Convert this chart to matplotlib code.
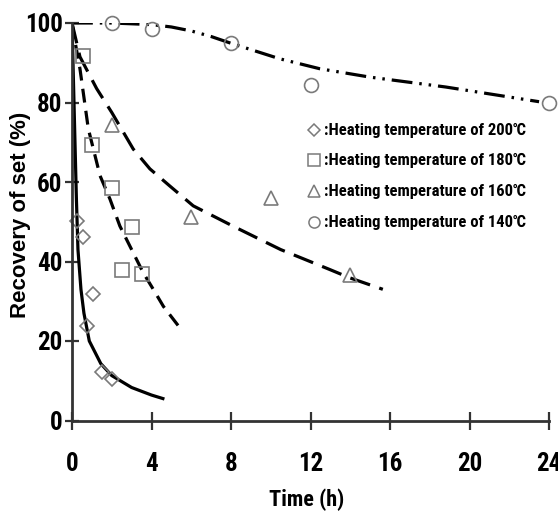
import matplotlib
matplotlib.use("Agg")
import matplotlib.pyplot as plt
from matplotlib import font_manager

# ---------------- data ----------------
# measured points
t200 = [0.25, 0.55, 0.75, 1.05, 1.5, 2.0]
r200 = [50.3, 46.2, 23.8, 31.8, 12.2, 10.4]
t180 = [0.55, 1.0, 2.0, 3.0, 2.5, 3.5]
r180 = [91.6, 69.4, 58.5, 48.7, 37.9, 36.9]
t160 = [2.0, 6.0, 10.0, 14.0]
r160 = [74.4, 51.3, 56.0, 36.6]
t140 = [2.0, 4.0, 8.0, 12.0, 24.0]
r140 = [100.0, 98.4, 95.0, 84.4, 80.0]

# fitted curves
ct200 = [0, 0.04, 0.08, 0.12, 0.16, 0.22, 0.3, 0.45, 0.6, 0.87, 1.45, 2.0, 3.0, 4.0, 4.65]
cr200 = [100, 92, 84, 76, 68, 56, 43, 33, 27, 20, 14.3, 11.3, 8.3, 6.4, 5.4]
ct180 = [0, 0.2, 0.4, 0.82, 1.41, 1.91, 2.41, 3.0, 3.58, 4.09, 4.6, 5.43]
cr180 = [100, 94, 88.5, 73.4, 61.6, 55.7, 48.9, 43.0, 37.2, 33.0, 28.7, 23.3]
ct160 = [0, 0.4, 1.24, 2.0, 3.08, 3.92, 4.92, 6.1, 8.1, 10.5, 12.96, 13.97, 15.64]
cr160 = [100, 91.5, 83.5, 77.5, 68.3, 63.3, 59.0, 54.0, 48.9, 43.0, 38.0, 35.9, 33.0]
ct140 = [0, 2.0, 4.0, 5.0, 6.0, 7.0, 7.94, 10.45, 12.46, 14.97, 18.8, 23.5]
cr140 = [100, 100, 99.6, 99.0, 98.0, 96.6, 95.0, 91.0, 88.5, 86.4, 83.9, 80.2]

legend_labels = [":Heating temperature of 200\u2103",
                 ":Heating temperature of 180\u2103",
                 ":Heating temperature of 160\u2103",
                 ":Heating temperature of 140\u2103"]
xticks = [0, 4, 8, 12, 16, 20, 24]
yticks = [0, 20, 40, 60, 80, 100]

# ---------------- style ----------------
names = {f.name for f in font_manager.fontManager.ttflist}
narrow = [n for n in ["Liberation Sans Narrow", "Roboto Condensed", "Open Sans Condensed"] if n in names]
NARROW = narrow + ["Liberation Sans", "DejaVu Sans"]
plt.rcParams["lines.scale_dashes"] = False

fig = plt.figure(figsize=(5.58, 5.18), dpi=100)
ax = fig.add_axes([72/558, 1-420.5/518, 477/558, 397.5/518])

gray = "#7a7a7a"
ax.plot(ct200, cr200, color="black", lw=2.3, solid_capstyle="butt")
ax.plot(ct180, cr180, color="black", lw=2.3, dashes=(10, 6))
ax.plot(ct160, cr160, color="black", lw=2.3, dashes=(15, 7))
ax.plot(ct140, cr140, color="black", lw=2.3, dashes=(15, 5, 1.8, 5, 1.8, 5))

mk = dict(ls="none", mfc="none", mec=gray, mew=1.2, clip_on=False)
ax.plot(t200, r200, marker="D", ms=7, **mk)
ax.plot(t180, r180, marker="s", ms=9.5, **mk)
ax.plot(t160, r160, marker="^", ms=10, **mk)
ax.plot(t140, r140, marker="o", ms=10, **mk)

ax.set_xlim(0, 24)
ax.set_ylim(0, 100)
ax.set_xticks(xticks)
ax.set_yticks(yticks)
for s in ["top", "right"]:
    ax.spines[s].set_visible(False)
for s in ["left", "bottom"]:
    ax.spines[s].set_color("#333333")
    ax.spines[s].set_linewidth(2)
ax.tick_params(axis="x", direction="inout", length=13, width=1.6, color="#333333", pad=16)
ax.tick_params(axis="y", direction="inout", length=9.5, width=1.6, color="#333333", pad=2)
for lab in ax.get_xticklabels() + ax.get_yticklabels():
    lab.set_family(NARROW)
    lab.set_fontweight("bold")
    lab.set_fontsize(18)

ax.set_xlabel("Time (h)", family=NARROW, fontweight="bold", fontsize=16)
ax.xaxis.set_label_coords((307-72)/477, -(500-420.5)/397.5)
ax.xaxis.label.set_va("center")
ax.set_ylabel("Recovery of set (%)", family=["Liberation Sans", "DejaVu Sans"],
              fontweight="bold", fontsize=16)
ax.yaxis.set_label_coords((21-72)/477, (420.5-215)/397.5)
ax.yaxis.label.set_va("center")

# legend (manual)
mks = ["D", "s", "^", "o"]
msz = [6, 8, 8, 8]
rows = [130, 160, 191, 222]
for m, s, yy, lab in zip(mks, msz, rows, legend_labels):
    fig.lines.append(plt.Line2D([314/558], [1-yy/518], marker=m, ms=s, mfc="none",
                                mec=gray, mew=1.1, transform=fig.transFigure))
    fig.text(324/558, 1-yy/518, lab, family=NARROW, fontweight="bold",
             fontsize=12, va="center", ha="left")

fig.savefig("out.png", dpi=100)
